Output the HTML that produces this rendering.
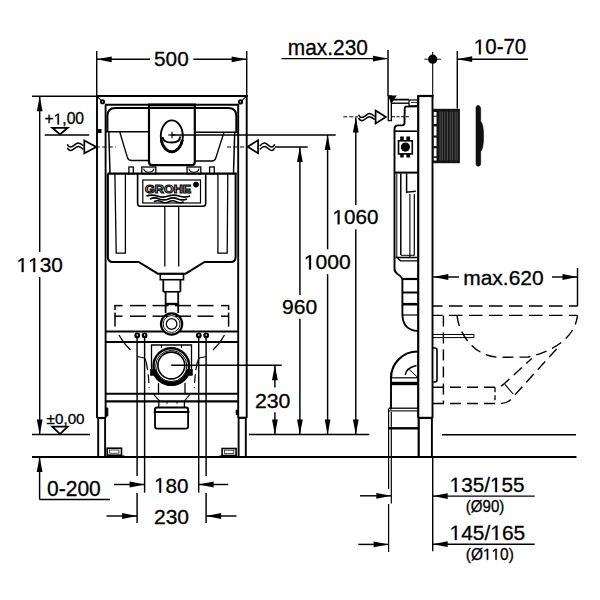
<!DOCTYPE html>
<html><head><meta charset="utf-8"><style>
html,body{margin:0;padding:0;background:#fff;}
svg{display:block;}
text{font-family:"Liberation Sans",sans-serif;fill:#000;stroke:none;}
</style></head><body>
<svg width="600" height="600" viewBox="0 0 600 600" stroke="#000" fill="none">
<rect x="0" y="0" width="600" height="600" fill="#fff" stroke="none"/>
<line x1="96.7" y1="51" x2="96.7" y2="96" stroke-width="1.45" stroke-linecap="butt"/>
<line x1="246.7" y1="51" x2="246.7" y2="96" stroke-width="1.45" stroke-linecap="butt"/>
<line x1="96.7" y1="59.3" x2="150" y2="59.3" stroke-width="1.45" stroke-linecap="butt"/>
<line x1="193.3" y1="59.3" x2="246.7" y2="59.3" stroke-width="1.45" stroke-linecap="butt"/>
<path d="M96.7,59.3 L111.7,56.4 L111.7,62.199999999999996 Z" fill="#000" stroke="none"/>
<path d="M246.7,59.3 L231.7,56.4 L231.7,62.199999999999996 Z" fill="#000" stroke="none"/>
<text x="0" y="0" transform="matrix(1.031611 0 0 1 154.069 65.803)" style="font-family:'Liberation Sans',sans-serif;font-size:20.127px;font-weight:normal;fill:#000;stroke:#000;stroke-width:0.3px;" >500</text>
<line x1="32" y1="96.2" x2="96.7" y2="96.2" stroke-width="1.45" stroke-linecap="butt"/>
<line x1="39.7" y1="96.2" x2="39.7" y2="252" stroke-width="1.45" stroke-linecap="butt"/>
<line x1="39.7" y1="277" x2="39.7" y2="434.5" stroke-width="1.45" stroke-linecap="butt"/>
<path d="M39.7,96.2 L36.800000000000004,111.2 L42.6,111.2 Z" fill="#000" stroke="none"/>
<path d="M39.7,434.5 L36.800000000000004,419.5 L42.6,419.5 Z" fill="#000" stroke="none"/>
<text x="0" y="0" transform="matrix(1.038070 0 0 1 16.497 272.004)" style="font-family:'Liberation Sans',sans-serif;font-size:20.056px;font-weight:normal;fill:#000;stroke:#000;stroke-width:0.3px;" ><tspan style="fill:none;stroke:none">1</tspan><tspan style="fill:none;stroke:none">1</tspan>30</text><path transform="matrix(0.010166 0 0 -0.009793 16.497 272.004)" d="M515 0V1237L197 1010V1180L530 1409H696V0Z M1654 0V1237L1336 1010V1180L1669 1409H1835V0Z" fill="#000" stroke="#000" stroke-width="0.3" vector-effect="non-scaling-stroke"/>
<text x="0" y="0" transform="matrix(1.000231 0 0 1 44.434 124.447)" style="font-family:'Liberation Sans',sans-serif;font-size:15.678px;font-weight:normal;fill:#000;stroke:#000;stroke-width:0.3px;" >+<tspan style="fill:none;stroke:none">1</tspan>,00</text><path transform="matrix(0.007657 0 0 -0.007655 44.434 124.447)" d="M1711 0V1237L1393 1010V1180L1726 1409H1892V0Z" fill="#000" stroke="#000" stroke-width="0.3" vector-effect="non-scaling-stroke"/>
<path d="M52.3,127.8 L67.7,127.8 L60,134.4 Z" stroke-width="1.8" fill="none" />
<line x1="44.7" y1="135" x2="89.2" y2="135" stroke-width="1.45" stroke-linecap="butt"/>
<text x="0" y="0" transform="matrix(1.016645 0 0 1 46.617 423.654)" style="font-family:'Liberation Sans',sans-serif;font-size:14.972px;font-weight:normal;fill:#000;stroke:#000;stroke-width:0.3px;" >±0,00</text>
<path d="M52.3,426.6 L67.7,426.6 L60,434.1 Z" stroke-width="1.8" fill="none" />
<line x1="32" y1="434.5" x2="90" y2="434.5" stroke-width="1.45" stroke-linecap="butt"/>
<path d="M67.3,144.3 C68.3125,146.5 69.325,147.10000000000002 70.74249999999999,147.10000000000002 C73.375,147.10000000000002 75.39999999999999,143.10000000000002 78.235,143.10000000000002 C80.46249999999999,143.10000000000002 81.98124999999999,144.60000000000002 83.5,146.0" stroke-width="1.5" fill="none" />
<path d="M67.3,147.70000000000002 C68.3125,149.9 69.325,150.50000000000003 70.74249999999999,150.50000000000003 C73.375,150.50000000000003 75.39999999999999,146.50000000000003 78.235,146.50000000000003 C80.46249999999999,146.50000000000003 81.98124999999999,148.00000000000003 83.5,149.4" stroke-width="1.5" fill="none" />
<path d="M84.3,140.5 L84.3,153.3 L96.3,147 Z" stroke-width="1.7" fill="#fff" />
<line x1="95.8" y1="147" x2="116" y2="147" stroke-width="1.0" stroke-dasharray="4,2.5" stroke-linecap="butt"/>
<path d="M247.7,146.8 L258.1,140.3 L258.1,153.3 Z" stroke-width="1.7" fill="#fff" />
<g transform="translate(534.4,0) scale(-1,1)">
<path d="M259.7,144.3 C260.6375,146.5 261.575,147.10000000000002 262.8875,147.10000000000002 C265.325,147.10000000000002 267.2,143.10000000000002 269.825,143.10000000000002 C271.8875,143.10000000000002 273.29375,144.60000000000002 274.7,146.0" stroke-width="1.5" fill="none" />
<path d="M259.7,147.70000000000002 C260.6375,149.9 261.575,150.50000000000003 262.8875,150.50000000000003 C265.325,150.50000000000003 267.2,146.50000000000003 269.825,146.50000000000003 C271.8875,146.50000000000003 273.29375,148.00000000000003 274.7,149.4" stroke-width="1.5" fill="none" />
</g>
<line x1="275" y1="147" x2="307.7" y2="147" stroke-width="1.45" stroke-linecap="butt"/>
<line x1="227" y1="147" x2="246.7" y2="147" stroke-width="1.0" stroke-dasharray="4,2.5" stroke-linecap="butt"/>
<line x1="97" y1="95" x2="97" y2="418" stroke-width="1.9" stroke-linecap="butt"/>
<line x1="105.6" y1="104.7" x2="105.6" y2="418" stroke-width="1.9" stroke-linecap="butt"/>
<line x1="98.2" y1="418" x2="98.2" y2="456" stroke-width="1.9" stroke-linecap="butt"/>
<line x1="105.1" y1="418" x2="105.1" y2="456" stroke-width="1.9" stroke-linecap="butt"/>
<line x1="246.7" y1="95.2" x2="246.7" y2="418" stroke-width="1.9" stroke-linecap="butt"/>
<line x1="238.2" y1="104.7" x2="238.2" y2="418" stroke-width="1.9" stroke-linecap="butt"/>
<line x1="245.8" y1="418" x2="245.8" y2="456" stroke-width="1.9" stroke-linecap="butt"/>
<line x1="238.6" y1="418" x2="238.6" y2="456" stroke-width="1.9" stroke-linecap="butt"/>
<line x1="96" y1="96" x2="247.7" y2="96" stroke-width="2.0" stroke-linecap="butt"/>
<line x1="105" y1="104.8" x2="239" y2="104.8" stroke-width="1.9" stroke-linecap="butt"/>
<circle cx="102.6" cy="101.8" r="1.6" stroke-width="1.9" fill="#fff"/>
<circle cx="240.5" cy="101.9" r="1.6" stroke-width="1.9" fill="#fff"/>
<line x1="97.4" y1="96.6" x2="101.4" y2="100.6" stroke-width="1.1" stroke-linecap="butt"/>
<line x1="246.2" y1="96.6" x2="241.8" y2="100.7" stroke-width="1.1" stroke-linecap="butt"/>
<line x1="105.6" y1="331.5" x2="238.4" y2="331.5" stroke-width="1.9" stroke-linecap="butt"/>
<line x1="105.6" y1="342" x2="238.4" y2="342" stroke-width="2.2" stroke-linecap="butt"/>
<line x1="105.6" y1="393.7" x2="238.4" y2="393.7" stroke-width="1.9" stroke-linecap="butt"/>
<line x1="105.6" y1="401.3" x2="238.4" y2="401.3" stroke-width="2.2" stroke-linecap="butt"/>
<line x1="96.9" y1="418" x2="105.6" y2="418" stroke-width="2.2" stroke-linecap="butt"/>
<line x1="238.2" y1="417.8" x2="246.7" y2="417.8" stroke-width="2.2" stroke-linecap="butt"/>
<rect x="107.2" y="448.2" width="14.3" height="7" stroke-width="1.6" fill="none" rx="0"/>
<rect x="109.5" y="450" width="9.5" height="3.2" stroke-width="0.7" fill="none" rx="0"/>
<rect x="222.1" y="448.5" width="14" height="7" stroke-width="1.6" fill="none" rx="0"/>
<rect x="224.3" y="450.2" width="9.5" height="3.2" stroke-width="0.7" fill="none" rx="0"/>
<line x1="107" y1="456.5" x2="124.5" y2="456.5" stroke-width="2.2" stroke-linecap="butt"/>
<line x1="219.5" y1="456.5" x2="236.6" y2="456.5" stroke-width="2.2" stroke-linecap="butt"/>
<path d="M105.8,408 L107.8,408 L107.8,416 L105.8,416 Z" stroke-width="1.0" fill="#000" />
<path d="M238.2,410 L236.2,410 L236.2,414.5 L238.2,414.5 Z" stroke-width="1.0" fill="#000" />
<rect x="97.5" y="129.5" width="3.5" height="3" stroke-width="1.0" fill="#000" rx="0"/>
<path d="M107.4,132 L107.4,116 Q107.4,108 115.4,108 L228.3,108 Q236.3,108 236.3,116 L236.3,132" stroke-width="2.0" fill="none" />
<line x1="108.8" y1="131.7" x2="110" y2="173.5" stroke-width="1.5" stroke-linecap="butt"/>
<line x1="234.7" y1="131.7" x2="233.5" y2="173.5" stroke-width="1.5" stroke-linecap="butt"/>
<line x1="105.6" y1="131.7" x2="149" y2="131.7" stroke-width="1.4" stroke-linecap="butt"/>
<line x1="194.8" y1="132.2" x2="238.2" y2="132.2" stroke-width="1.4" stroke-linecap="butt"/>
<path d="M119.7,131.8 L127.4,157.5 Q128.3,160.5 131.5,160.5 L148.5,160.5" stroke-width="1.3" fill="none" />
<path d="M224,132.3 L215.8,158 Q215,161 211.8,161 L195.3,161" stroke-width="1.3" fill="none" />
<path d="M149,105 L149,162 Q149,165.1 152,165.1 L191.8,165.1 Q194.8,165.1 194.8,162 L194.8,105" stroke-width="2.2" fill="none" />
<line x1="148" y1="104.9" x2="196" y2="104.9" stroke-width="2.8" stroke-linecap="butt"/>
<ellipse cx="171.8" cy="136.3" rx="11" ry="15.9" stroke-width="1.9" fill="none"/>
<path d="M161.2,140 A11,15.9 0 0 0 182.4,140" stroke-width="2.8" fill="none" />
<path d="M162.5,137 Q163,142.6 171.8,142.6 Q180,142.6 180.2,136.5" stroke-width="2.0" fill="none" />
<line x1="168.3" y1="135" x2="175" y2="135" stroke-width="1.2" stroke-linecap="butt"/>
<line x1="172" y1="131.8" x2="172" y2="138.3" stroke-width="1.2" stroke-linecap="butt"/>
<line x1="171.8" y1="134.9" x2="335.7" y2="134.9" stroke-width="1.45" stroke-linecap="butt"/>
<line x1="107.5" y1="173.7" x2="236.8" y2="173.7" stroke-width="2.2" stroke-linecap="butt"/>
<rect x="128.9" y="167" width="4.400000000000006" height="6.7" stroke-width="1.3" fill="none" rx="0"/>
<rect x="141.8" y="167" width="14.0" height="6.7" stroke-width="1.3" fill="none" rx="0"/>
<rect x="187" y="167" width="13.800000000000011" height="6.7" stroke-width="1.3" fill="none" rx="0"/>
<rect x="209.6" y="167" width="4.700000000000017" height="6.7" stroke-width="1.3" fill="none" rx="0"/>
<path d="M143.6,168.6 Q144.5,172.2 148.8,172.2 Q153,172.2 154,168.6" stroke-width="1.1" fill="none" />
<path d="M188.8,168.6 Q189.7,172.2 194,172.2 Q198.2,172.2 199.1,168.6" stroke-width="1.1" fill="none" />
<path d="M107.9,173.7 L107.9,257 Q107.9,262 112.9,262 L138.7,262 L157.8,273.7 L185.6,273.7 L204.6,262 L230.6,262 Q235.6,262 235.6,257 L235.6,173.7" stroke-width="2.0" fill="none" />
<path d="M114.9,174 L116.2,253.2 L125.4,253.2 L125.4,174" stroke-width="1.3" fill="none" />
<path d="M227.8,174 L227.2,253.2 L217.9,253.2 L217.9,174" stroke-width="1.3" fill="none" />
<path d="M137.6,173.7 L137.6,203.5 Q137.6,206.3 140.4,206.3 L202.9,206.3 Q205.7,206.3 205.7,203.5 L205.7,173.7" stroke-width="1.6" fill="none" />
<rect x="142.8" y="180" width="57.7" height="23" stroke-width="1.2" fill="none" rx="0"/>
<text x="0" y="0" transform="matrix(1.111486 0 0 1 145.083 192.600)" style="font-family:'Liberation Sans',sans-serif;font-size:11.337px;font-weight:bold;fill:#fff;stroke:#000;stroke-width:1.1px;" >GROHE</text>
<circle cx="196" cy="184.6" r="2.7" stroke-width="0.5" fill="#000"/>
<path d="M146.4,196.1 q5.45,-2.0 10.90,0 q5.45,2.0 10.90,0 q5.45,-2.0 10.90,0 q5.45,2.0 10.90,0" stroke-width="1.6" fill="none" />
<path d="M150,198.9 q4.62,-2.0 9.25,0 q4.62,2.0 9.25,0 q4.62,-2.0 9.25,0 q4.62,2.0 9.25,0" stroke-width="1.6" fill="none" />
<path d="M153.9,201.7 q3.72,-2.0 7.45,0 q3.72,2.0 7.45,0 q3.72,-2.0 7.45,0 q3.72,2.0 7.45,0" stroke-width="1.6" fill="none" />
<line x1="164.8" y1="206.3" x2="164.8" y2="266.5" stroke-width="1.3" stroke-linecap="butt"/>
<line x1="178.7" y1="206.3" x2="178.7" y2="266.5" stroke-width="1.3" stroke-linecap="butt"/>
<rect x="160.3" y="273.7" width="23.2" height="6" stroke-width="1.6" fill="none" rx="0"/>
<line x1="163.3" y1="279.7" x2="163.3" y2="291.8" stroke-width="1.8" stroke-linecap="butt"/>
<line x1="180.4" y1="279.7" x2="180.4" y2="291.8" stroke-width="1.8" stroke-linecap="butt"/>
<line x1="163.3" y1="291.8" x2="180.4" y2="291.8" stroke-width="1.6" stroke-linecap="butt"/>
<line x1="165.6" y1="291.8" x2="165.6" y2="313" stroke-width="1.8" stroke-linecap="butt"/>
<line x1="178.2" y1="291.8" x2="178.2" y2="313" stroke-width="1.8" stroke-linecap="butt"/>
<line x1="165.6" y1="304" x2="178.2" y2="304" stroke-width="2.4" stroke-linecap="butt"/>
<circle cx="171.6" cy="324" r="10.6" stroke-width="2.2" fill="#fff"/>
<circle cx="171.6" cy="324" r="8.4" stroke-width="0.9" fill="none"/>
<circle cx="171.6" cy="324" r="5.3" stroke-width="1.3" fill="none"/>
<line x1="114.5" y1="305.6" x2="122.5" y2="305.6" stroke-width="1.5" stroke-linecap="butt"/>
<line x1="130" y1="305.6" x2="146" y2="305.6" stroke-width="1.5" stroke-linecap="butt"/>
<line x1="152.5" y1="305.6" x2="168.5" y2="305.6" stroke-width="1.5" stroke-linecap="butt"/>
<line x1="175" y1="305.6" x2="191" y2="305.6" stroke-width="1.5" stroke-linecap="butt"/>
<line x1="197.5" y1="305.6" x2="213.5" y2="305.6" stroke-width="1.5" stroke-linecap="butt"/>
<line x1="221" y1="305.6" x2="229" y2="305.6" stroke-width="1.5" stroke-linecap="butt"/>
<line x1="114.5" y1="316.2" x2="122.5" y2="316.2" stroke-width="1.5" stroke-linecap="butt"/>
<line x1="130" y1="316.2" x2="146" y2="316.2" stroke-width="1.5" stroke-linecap="butt"/>
<line x1="152.5" y1="316.2" x2="168.5" y2="316.2" stroke-width="1.5" stroke-linecap="butt"/>
<line x1="175" y1="316.2" x2="191" y2="316.2" stroke-width="1.5" stroke-linecap="butt"/>
<line x1="197.5" y1="316.2" x2="213.5" y2="316.2" stroke-width="1.5" stroke-linecap="butt"/>
<line x1="221" y1="316.2" x2="229" y2="316.2" stroke-width="1.5" stroke-linecap="butt"/>
<line x1="115" y1="305" x2="115" y2="310" stroke-width="1.5" stroke-linecap="butt"/>
<line x1="115" y1="312.6" x2="115" y2="326.6" stroke-width="1.5" stroke-linecap="butt"/>
<line x1="228.6" y1="305" x2="228.6" y2="310" stroke-width="1.5" stroke-linecap="butt"/>
<line x1="228.6" y1="312.6" x2="228.6" y2="326.6" stroke-width="1.5" stroke-linecap="butt"/>
<path d="M119,335 Q124,344 130.5,350" stroke-width="1.2" fill="none" />
<path d="M224.5,335 Q219.5,344 213,350" stroke-width="1.2" fill="none" />
<path d="M146,361.5 Q148.5,372 149.2,388" stroke-width="1.2" fill="none" stroke-dasharray="9,4" />
<path d="M197.5,361.5 Q195,372 194.3,388" stroke-width="1.2" fill="none" stroke-dasharray="9,4" />
<line x1="137" y1="356.5" x2="144.6" y2="358" stroke-width="1.1" stroke-linecap="butt"/>
<line x1="144.6" y1="358" x2="146" y2="361.5" stroke-width="1.1" stroke-linecap="butt"/>
<line x1="206.5" y1="356.5" x2="198.9" y2="358" stroke-width="1.1" stroke-linecap="butt"/>
<line x1="198.9" y1="358" x2="197.5" y2="361.5" stroke-width="1.1" stroke-linecap="butt"/>
<circle cx="137.25" cy="335.4" r="2.85" stroke-width="0" fill="#000"/>
<circle cx="137.25" cy="335.1" r="0.8" fill="#fff" stroke="none"/>
<circle cx="144.6" cy="335.4" r="2.85" stroke-width="0" fill="#000"/>
<circle cx="144.6" cy="335.1" r="0.8" fill="#fff" stroke="none"/>
<circle cx="198.8" cy="335.4" r="2.85" stroke-width="0" fill="#000"/>
<circle cx="198.8" cy="335.1" r="0.8" fill="#fff" stroke="none"/>
<circle cx="206.2" cy="335.4" r="2.85" stroke-width="0" fill="#000"/>
<circle cx="206.2" cy="335.1" r="0.8" fill="#fff" stroke="none"/>
<line x1="137.1" y1="338" x2="137.1" y2="476" stroke-width="1.45" stroke-linecap="butt"/>
<line x1="137.1" y1="493" x2="137.1" y2="523" stroke-width="1.45" stroke-linecap="butt"/>
<line x1="144.6" y1="338" x2="144.6" y2="492.7" stroke-width="1.45" stroke-linecap="butt"/>
<line x1="198.7" y1="338" x2="198.7" y2="492.7" stroke-width="1.45" stroke-linecap="butt"/>
<line x1="206.1" y1="338" x2="206.1" y2="476" stroke-width="1.45" stroke-linecap="butt"/>
<line x1="206.1" y1="493" x2="206.1" y2="523" stroke-width="1.45" stroke-linecap="butt"/>
<path d="M151.5,371 L151.5,345 L191.5,345 L191.5,371" stroke-width="1.3" fill="none" />
<line x1="161.5" y1="345" x2="161.5" y2="348" stroke-width="1.0" stroke-linecap="butt"/>
<line x1="181.5" y1="345" x2="181.5" y2="348" stroke-width="1.0" stroke-linecap="butt"/>
<circle cx="171.3" cy="366" r="17.8" stroke-width="2.4" fill="#fff"/>
<circle cx="171.3" cy="366" r="15.6" stroke-width="1.0" fill="none"/>
<path d="M154.1,370.6 A17.8,17.8 0 0 0 188.5,370.6" stroke-width="4.4" fill="none" />
<circle cx="171.3" cy="365.5" r="13.4" stroke-width="1.6" fill="#fff"/>
<rect x="150.3" y="369.5" width="5" height="6" stroke-width="0.5" fill="#000" rx="0"/>
<rect x="187.5" y="369.5" width="5" height="6" stroke-width="0.5" fill="#000" rx="0"/>
<line x1="171.2" y1="365.2" x2="281.7" y2="365.2" stroke-width="1.45" stroke-linecap="butt"/>
<line x1="158.5" y1="383" x2="158.5" y2="394" stroke-width="1.3" stroke-linecap="butt"/>
<line x1="185" y1="383" x2="185" y2="394" stroke-width="1.3" stroke-linecap="butt"/>
<path d="M153.4,394.2 L159.7,401.2 M190,394.4 L184.4,401" stroke-width="1.1" fill="none" />
<line x1="158.8" y1="401.6" x2="158.8" y2="407.5" stroke-width="1.3" stroke-linecap="butt"/>
<line x1="184.4" y1="401.6" x2="184.4" y2="407.5" stroke-width="1.3" stroke-linecap="butt"/>
<line x1="167" y1="401.6" x2="167" y2="403.8" stroke-width="1.0" stroke-linecap="butt"/>
<line x1="177" y1="401.6" x2="177" y2="403.8" stroke-width="1.0" stroke-linecap="butt"/>
<path d="M155,412 L155,409.5 Q155,407.5 157,407.5 L186.1,407.5 Q188.1,407.5 188.1,409.5 L188.1,412" stroke-width="2.0" fill="none" />
<line x1="153.7" y1="412" x2="189.5" y2="412" stroke-width="2.2" stroke-linecap="butt"/>
<path d="M155,412 L155,426.6 Q155,428.6 157,428.6 L186.1,428.6 Q188.1,428.6 188.1,426.6 L188.1,412" stroke-width="1.8" fill="none" />
<line x1="32" y1="457" x2="576.5" y2="457" stroke-width="2.0" stroke-linecap="butt"/>
<path d="M39.6,457 L36.7,472.0 L42.5,472.0 Z" fill="#000" stroke="none"/>
<line x1="39.6" y1="457" x2="39.6" y2="499.4" stroke-width="1.45" stroke-linecap="butt"/>
<line x1="39.6" y1="499.4" x2="110" y2="499.4" stroke-width="1.45" stroke-linecap="butt"/>
<text x="0" y="0" transform="matrix(0.993698 0 0 1 46.978 495.793)" style="font-family:'Liberation Sans',sans-serif;font-size:21.186px;font-weight:normal;fill:#000;stroke:#000;stroke-width:0.3px;" >0-200</text>
<line x1="114" y1="484.5" x2="144.6" y2="484.5" stroke-width="1.45" stroke-linecap="butt"/>
<path d="M144.6,484.5 L129.6,481.6 L129.6,487.4 Z" fill="#000" stroke="none"/>
<line x1="228.3" y1="484.5" x2="198.7" y2="484.5" stroke-width="1.45" stroke-linecap="butt"/>
<path d="M198.7,484.5 L213.7,481.6 L213.7,487.4 Z" fill="#000" stroke="none"/>
<text x="0" y="0" transform="matrix(0.985760 0 0 1 154.111 492.695)" style="font-family:'Liberation Sans',sans-serif;font-size:20.974px;font-weight:normal;fill:#000;stroke:#000;stroke-width:0.3px;" ><tspan style="fill:none;stroke:none">1</tspan>80</text><path transform="matrix(0.010096 0 0 -0.010241 154.111 492.695)" d="M515 0V1237L197 1010V1180L530 1409H696V0Z" fill="#000" stroke="#000" stroke-width="0.3" vector-effect="non-scaling-stroke"/>
<line x1="106.5" y1="516" x2="137.1" y2="516" stroke-width="1.45" stroke-linecap="butt"/>
<path d="M137.1,516 L122.1,513.1 L122.1,518.9 Z" fill="#000" stroke="none"/>
<line x1="236.5" y1="516" x2="206.1" y2="516" stroke-width="1.45" stroke-linecap="butt"/>
<path d="M206.1,516 L221.1,513.1 L221.1,518.9 Z" fill="#000" stroke="none"/>
<text x="0" y="0" transform="matrix(1.000537 0 0 1 153.941 523.794)" style="font-family:'Liberation Sans',sans-serif;font-size:21.045px;font-weight:normal;fill:#000;stroke:#000;stroke-width:0.3px;" >230</text>
<line x1="249" y1="434.5" x2="369.3" y2="434.5" stroke-width="1.45" stroke-linecap="butt"/>
<line x1="274.9" y1="365.2" x2="274.9" y2="387.6" stroke-width="1.45" stroke-linecap="butt"/>
<line x1="274.9" y1="412.2" x2="274.9" y2="434.5" stroke-width="1.45" stroke-linecap="butt"/>
<path d="M274.9,365.2 L272.0,380.2 L277.79999999999995,380.2 Z" fill="#000" stroke="none"/>
<path d="M274.9,434.5 L272.0,419.5 L277.79999999999995,419.5 Z" fill="#000" stroke="none"/>
<text x="0" y="0" transform="matrix(1.031845 0 0 1 254.930 407.599)" style="font-family:'Liberation Sans',sans-serif;font-size:20.621px;font-weight:normal;fill:#000;stroke:#000;stroke-width:0.3px;" >230</text>
<line x1="299.9" y1="147" x2="299.9" y2="294.9" stroke-width="1.45" stroke-linecap="butt"/>
<line x1="299.9" y1="318.8" x2="299.9" y2="434.5" stroke-width="1.45" stroke-linecap="butt"/>
<path d="M299.9,147 L297.0,162.0 L302.79999999999995,162.0 Z" fill="#000" stroke="none"/>
<path d="M299.9,434.5 L297.0,419.5 L302.79999999999995,419.5 Z" fill="#000" stroke="none"/>
<text x="0" y="0" transform="matrix(1.016525 0 0 1 282.111 314.197)" style="font-family:'Liberation Sans',sans-serif;font-size:20.762px;font-weight:normal;fill:#000;stroke:#000;stroke-width:0.3px;" >960</text>
<line x1="327.6" y1="134.9" x2="327.6" y2="249.4" stroke-width="1.45" stroke-linecap="butt"/>
<line x1="327.6" y1="274.1" x2="327.6" y2="434.5" stroke-width="1.45" stroke-linecap="butt"/>
<path d="M327.6,134.9 L324.70000000000005,149.9 L330.5,149.9 Z" fill="#000" stroke="none"/>
<path d="M327.6,434.5 L324.70000000000005,419.5 L330.5,419.5 Z" fill="#000" stroke="none"/>
<text x="0" y="0" transform="matrix(1.023556 0 0 1 303.820 269.399)" style="font-family:'Liberation Sans',sans-serif;font-size:20.621px;font-weight:normal;fill:#000;stroke:#000;stroke-width:0.3px;" ><tspan style="fill:none;stroke:none">1</tspan>000</text><path transform="matrix(0.010306 0 0 -0.010069 303.820 269.399)" d="M515 0V1237L197 1010V1180L530 1409H696V0Z" fill="#000" stroke="#000" stroke-width="0.3" vector-effect="non-scaling-stroke"/>
<line x1="355.8" y1="117.5" x2="355.8" y2="205" stroke-width="1.45" stroke-linecap="butt"/>
<line x1="355.8" y1="229.2" x2="355.8" y2="434.5" stroke-width="1.45" stroke-linecap="butt"/>
<path d="M355.8,117.5 L352.90000000000003,132.5 L358.7,132.5 Z" fill="#000" stroke="none"/>
<path d="M355.8,434.5 L352.90000000000003,419.5 L358.7,419.5 Z" fill="#000" stroke="none"/>
<text x="0" y="0" transform="matrix(1.016593 0 0 1 332.511 224.301)" style="font-family:'Liberation Sans',sans-serif;font-size:20.339px;font-weight:normal;fill:#000;stroke:#000;stroke-width:0.3px;" ><tspan style="fill:none;stroke:none">1</tspan>060</text><path transform="matrix(0.010096 0 0 -0.009931 332.511 224.301)" d="M515 0V1237L197 1010V1180L530 1409H696V0Z" fill="#000" stroke="#000" stroke-width="0.3" vector-effect="non-scaling-stroke"/>
<text x="0" y="0" transform="matrix(0.985775 0 0 1 287.813 54.993)" style="font-family:'Liberation Sans',sans-serif;font-size:21.186px;font-weight:normal;fill:#000;stroke:#000;stroke-width:0.3px;" >max.230</text>
<line x1="281.6" y1="58.6" x2="387.4" y2="58.6" stroke-width="1.45" stroke-linecap="butt"/>
<path d="M388,58.6 L373.0,55.7 L373.0,61.5 Z" fill="#000" stroke="none"/>
<line x1="388" y1="50" x2="388" y2="96" stroke-width="1.45" stroke-linecap="butt"/>
<text x="0" y="0" transform="matrix(0.968420 0 0 1 473.826 54.293)" style="font-family:'Liberation Sans',sans-serif;font-size:21.186px;font-weight:normal;fill:#000;stroke:#000;stroke-width:0.3px;" ><tspan style="fill:none;stroke:none">1</tspan>0-70</text><path transform="matrix(0.010018 0 0 -0.010345 473.826 54.293)" d="M515 0V1237L197 1010V1180L530 1409H696V0Z" fill="#000" stroke="#000" stroke-width="0.3" vector-effect="non-scaling-stroke"/>
<line x1="528" y1="59.2" x2="457.2" y2="59.2" stroke-width="1.45" stroke-linecap="butt"/>
<path d="M457.2,59.2 L472.2,56.300000000000004 L472.2,62.1 Z" fill="#000" stroke="none"/>
<line x1="457.3" y1="51" x2="457.3" y2="108.5" stroke-width="1.45" stroke-linecap="butt"/>
<circle cx="432.7" cy="59.2" r="4.6" stroke-width="0" fill="#000"/>
<line x1="424.3" y1="59.2" x2="441" y2="59.2" stroke-width="0.9" stroke-linecap="butt"/>
<line x1="432.7" y1="52" x2="432.7" y2="96" stroke-width="1.1" stroke-linecap="butt"/>
<line x1="418.2" y1="95.2" x2="418.2" y2="418" stroke-width="2.2" stroke-linecap="butt"/>
<line x1="418.7" y1="418" x2="418.7" y2="457" stroke-width="2.2" stroke-linecap="butt"/>
<line x1="432.5" y1="95.2" x2="432.5" y2="418" stroke-width="1.9" stroke-linecap="butt"/>
<line x1="431.9" y1="418" x2="431.9" y2="457" stroke-width="1.9" stroke-linecap="butt"/>
<line x1="417.5" y1="96" x2="433.4" y2="96" stroke-width="2.2" stroke-linecap="butt"/>
<line x1="418.2" y1="417.9" x2="432.5" y2="417.9" stroke-width="2.2" stroke-linecap="butt"/>
<rect x="432.7" y="108.8" width="27.2" height="54.4" stroke-width="0" fill="#151515" rx="0"/>
<rect x="433.8" y="112" width="2.7" height="3.700000000000003" fill="#fff" stroke="none"/>
<rect x="433.8" y="116.8" width="2.7" height="7.1000000000000085" fill="#fff" stroke="none"/>
<rect x="433.8" y="126.4" width="2.7" height="9.099999999999994" fill="#fff" stroke="none"/>
<rect x="433.8" y="137.6" width="2.7" height="8.5" fill="#fff" stroke="none"/>
<rect x="433.8" y="148.3" width="2.7" height="8.0" fill="#fff" stroke="none"/>
<rect x="433.8" y="157.9" width="2.7" height="2.5999999999999943" fill="#fff" stroke="none"/>
<g stroke="#707070">
<line x1="440.1" y1="111.5" x2="440.1" y2="160.5" stroke-width="0.7" stroke-linecap="butt"/>
<line x1="442.3" y1="111.5" x2="442.3" y2="160.5" stroke-width="0.7" stroke-linecap="butt"/>
<line x1="444.9" y1="111.5" x2="444.9" y2="160.5" stroke-width="0.7" stroke-linecap="butt"/>
<line x1="447.6" y1="111.5" x2="447.6" y2="160.5" stroke-width="0.7" stroke-linecap="butt"/>
<line x1="450.3" y1="111.5" x2="450.3" y2="160.5" stroke-width="0.7" stroke-linecap="butt"/>
<line x1="452.4" y1="111.5" x2="452.4" y2="160.5" stroke-width="0.7" stroke-linecap="butt"/>
<line x1="455.1" y1="111.5" x2="455.1" y2="160.5" stroke-width="0.7" stroke-linecap="butt"/>
<line x1="457.2" y1="111.5" x2="457.2" y2="160.5" stroke-width="0.7" stroke-linecap="butt"/>
</g>
<path d="M476,107.5 Q476,105.4 478,105.4 Q480.7,105.4 480.7,109 L480.7,121.5 Q483.6,124 483.6,136 Q483.6,149 480.7,151.5 L480.7,163.5 Q480.7,166.3 478.3,166.3 Q476,166.3 476,164 Z" stroke-width="0.5" fill="#111" />
<rect x="388.3" y="96" width="3" height="24.6" stroke-width="1.3" fill="#fff" rx="0"/>
<path d="M388.1,96 L395.8,96 L391,103" stroke-width="1.2" fill="#000" />
<line x1="392" y1="99.6" x2="409" y2="99.6" stroke-width="1.8" stroke-linecap="butt"/>
<line x1="392" y1="103.2" x2="409" y2="103.2" stroke-width="1.4" stroke-linecap="butt"/>
<rect x="409" y="100" width="8.5" height="6" stroke-width="1.2" fill="none" rx="0"/>
<line x1="411" y1="102.5" x2="417" y2="102.5" stroke-width="0.8" stroke-linecap="butt"/>
<path d="M417.5,106.3 L405.7,106.6 Q404.7,107 404.7,109 L404.5,123 Q404.3,125.4 402,125.4 L397.5,125.4 Q394.5,125.6 394.5,129 L394.5,268.5 Q394.5,272 397.5,274 Q401,276 401.8,278 Q402.4,279 402.4,281 L402.4,315 Q402.6,326 411,329.6 Q414,331 418.3,331" stroke-width="1.9" fill="none" />
<line x1="392" y1="116.8" x2="409.5" y2="116.8" stroke-width="1.1" stroke-dasharray="3,1.6" stroke-linecap="butt"/>
<line x1="394.5" y1="131.2" x2="418" y2="131.2" stroke-width="1.6" stroke-linecap="butt"/>
<rect x="398.5" y="140.8" width="13.8" height="13.1" stroke-width="1.6" fill="#fff" rx="0"/>
<circle cx="405.4" cy="147.1" r="4.6" stroke-width="0" fill="#000"/>
<rect x="400.2" y="136.5" width="3.5" height="4.3" stroke-width="0" fill="#000" rx="0"/>
<rect x="406.4" y="136.5" width="3.7" height="4.3" stroke-width="0" fill="#000" rx="0"/>
<rect x="400.2" y="153.9" width="3.5" height="3.6" stroke-width="0" fill="#000" rx="0"/>
<rect x="406.4" y="153.9" width="3.7" height="3.6" stroke-width="0" fill="#000" rx="0"/>
<line x1="394.5" y1="172.6" x2="418.3" y2="172.6" stroke-width="2.0" stroke-linecap="butt"/>
<line x1="396.8" y1="173.5" x2="396.8" y2="257.5" stroke-width="1.0" stroke-linecap="butt"/>
<line x1="400.8" y1="173.5" x2="400.8" y2="255" stroke-width="1.5" stroke-linecap="butt"/>
<path d="M406.6,173.5 L406.6,192.2 L415.8,191.2" stroke-width="1.5" fill="none" />
<line x1="409.9" y1="194" x2="409.9" y2="257.5" stroke-width="1.1" stroke-linecap="butt"/>
<line x1="414.3" y1="194" x2="414.3" y2="255.5" stroke-width="1.2" stroke-linecap="butt"/>
<line x1="400.8" y1="255.3" x2="414.3" y2="255.3" stroke-width="1.0" stroke-linecap="butt"/>
<path d="M395.6,257.5 L417.5,257.5" stroke-width="1.6" fill="none" />
<path d="M397.5,258 L400.5,260.8 L417.5,260.8" stroke-width="1.2" fill="none" />
<line x1="402.4" y1="279" x2="418.3" y2="279" stroke-width="2.2" stroke-linecap="butt"/>
<line x1="402.4" y1="292.5" x2="418.3" y2="292.5" stroke-width="2.0" stroke-linecap="butt"/>
<line x1="402.4" y1="304.2" x2="418.3" y2="304.2" stroke-width="2.6" stroke-linecap="butt"/>
<line x1="402.4" y1="315" x2="418.3" y2="315" stroke-width="1.2" stroke-linecap="butt"/>
<line x1="343.3" y1="116.8" x2="358" y2="116.8" stroke-width="1.0" stroke-dasharray="4,2" stroke-linecap="butt"/>
<path d="M358.6,114.8 C359.60625000000005,117.0 360.6125,117.6 362.02125,117.6 C364.63750000000005,117.6 366.65000000000003,113.6 369.46750000000003,113.6 C371.68125000000003,113.6 373.190625,115.1 374.70000000000005,116.5" stroke-width="1.5" fill="none" />
<path d="M358.6,117.89999999999999 C359.60625000000005,120.1 360.6125,120.69999999999999 362.02125,120.69999999999999 C364.63750000000005,120.69999999999999 366.65000000000003,116.69999999999999 369.46750000000003,116.69999999999999 C371.68125000000003,116.69999999999999 373.190625,118.19999999999999 374.70000000000005,119.6" stroke-width="1.5" fill="none" />
<path d="M375.6,110.5 L375.6,123.5 L385.9,117 Z" stroke-width="1.7" fill="#fff" />
<line x1="433" y1="334.5" x2="474" y2="334.5" stroke-width="1.0" stroke-linecap="butt"/>
<line x1="433" y1="337.6" x2="474" y2="337.6" stroke-width="1.0" stroke-linecap="butt"/>
<line x1="474" y1="334.5" x2="474" y2="337.6" stroke-width="1.0" stroke-linecap="butt"/>
<path d="M433,348 L435,348 Q437,348 437,350 L437,380 Q437,382 435,382 L433,382" stroke-width="1.6" fill="none" />
<path d="M391,378 A26.5,26.5 0 0 1 417.5,351.5" stroke-width="2.2" fill="none" />
<path d="M405.2,375 Q406,368 416.5,365.5" stroke-width="1.4" fill="none" />
<line x1="408.3" y1="368.6" x2="417.5" y2="377.3" stroke-width="1.0" stroke-linecap="butt"/>
<line x1="391" y1="377.8" x2="418" y2="377.8" stroke-width="1.2" stroke-linecap="butt"/>
<line x1="391" y1="383.5" x2="418" y2="383.5" stroke-width="3.4" stroke-linecap="butt"/>
<line x1="391" y1="378" x2="391" y2="409.5" stroke-width="1.9" stroke-linecap="butt"/>
<line x1="388.6" y1="410" x2="388.6" y2="489" stroke-width="1.2" stroke-linecap="butt"/>
<line x1="388.6" y1="504" x2="388.6" y2="552" stroke-width="1.2" stroke-linecap="butt"/>
<line x1="391.3" y1="412" x2="391.3" y2="503.5" stroke-width="1.2" stroke-linecap="butt"/>
<path d="M391,408 Q388,408 388.5,411" stroke-width="1.2" fill="none" />
<line x1="389" y1="408.2" x2="418" y2="408.2" stroke-width="1.3" stroke-linecap="butt"/>
<line x1="389" y1="410.9" x2="418" y2="410.9" stroke-width="1.1" stroke-linecap="butt"/>
<line x1="389" y1="428.3" x2="418" y2="428.3" stroke-width="2.4" stroke-linecap="butt"/>
<line x1="433" y1="306" x2="577.5" y2="306" stroke-width="1.4" stroke-dasharray="9.5,6.5,13.5,6.5,13.5,6.5,13.5,6.5,13.5,6.5,13.5,6.5,13.5,6.5,9.5" stroke-linecap="butt"/>
<line x1="433" y1="315.4" x2="577.5" y2="315.4" stroke-width="1.4" stroke-dasharray="9.5,6.5,13.5,6.5,13.5,6.5,13.5,6.5,13.5,6.5,13.5,6.5,13.5,6.5,9.5" stroke-linecap="butt"/>
<line x1="577.5" y1="268" x2="577.5" y2="306" stroke-width="1.45" stroke-linecap="butt"/>
<path d="M457,315.4 C459,335 475,357 500,357.3 L528,357 C548,353 575,340 577.5,315.4" stroke-width="1.4" fill="none" stroke-dasharray="11,6" />
<line x1="443.4" y1="315.4" x2="443.4" y2="403.5" stroke-width="1.4" stroke-dasharray="11,6" stroke-linecap="butt"/>
<path d="M433,387.2 L495,387.2 Q501,387.2 504.5,383.5 L531.8,358.4" stroke-width="1.4" fill="none" stroke-dasharray="11,6" />
<path d="M433,403.5 L501,403.5 Q508,403.5 512.5,397.5 L557.8,347.6" stroke-width="1.4" fill="none" stroke-dasharray="11,6" />
<line x1="495" y1="387.2" x2="495" y2="403.5" stroke-width="1.3" stroke-dasharray="5,3" stroke-linecap="butt"/>
<line x1="504.8" y1="384.4" x2="513.2" y2="394" stroke-width="1.1" stroke-linecap="butt"/>
<line x1="433.3" y1="277" x2="459" y2="277" stroke-width="1.45" stroke-linecap="butt"/>
<path d="M433.3,277 L448.3,274.1 L448.3,279.9 Z" fill="#000" stroke="none"/>
<line x1="552" y1="277" x2="577.5" y2="277" stroke-width="1.45" stroke-linecap="butt"/>
<path d="M577.5,277 L562.5,274.1 L562.5,279.9 Z" fill="#000" stroke="none"/>
<text x="0" y="0" transform="matrix(1.004226 0 0 1 463.206 284.596)" style="font-family:'Liberation Sans',sans-serif;font-size:20.904px;font-weight:normal;fill:#000;stroke:#000;stroke-width:0.3px;" >max.620</text>
<line x1="442" y1="434.7" x2="576" y2="434.7" stroke-width="1.45" stroke-linecap="butt"/>
<line x1="432.7" y1="457" x2="432.7" y2="551.2" stroke-width="1.45" stroke-linecap="butt"/>
<line x1="360" y1="495.8" x2="391.3" y2="495.8" stroke-width="1.45" stroke-linecap="butt"/>
<path d="M391.3,495.8 L376.3,492.90000000000003 L376.3,498.7 Z" fill="#000" stroke="none"/>
<line x1="534.7" y1="496.1" x2="432.7" y2="496.1" stroke-width="1.45" stroke-linecap="butt"/>
<path d="M432.7,496.1 L447.7,493.20000000000005 L447.7,499.0 Z" fill="#000" stroke="none"/>
<text x="0" y="0" transform="matrix(0.998863 0 0 1 449.605 492.097)" style="font-family:'Liberation Sans',sans-serif;font-size:20.762px;font-weight:normal;fill:#000;stroke:#000;stroke-width:0.3px;" ><tspan style="fill:none;stroke:none">1</tspan>35/<tspan style="fill:none;stroke:none">1</tspan>55</text><path transform="matrix(0.010126 0 0 -0.010138 449.605 492.097)" d="M515 0V1237L197 1010V1180L530 1409H696V0Z M4501 0V1237L4183 1010V1180L4516 1409H4682V0Z" fill="#000" stroke="#000" stroke-width="0.3" vector-effect="non-scaling-stroke"/>
<text x="0" y="0" transform="matrix(0.953893 0 0 1 465.764 512.446)" style="font-family:'Liberation Sans',sans-serif;font-size:15.819px;font-weight:normal;fill:#000;stroke:#000;stroke-width:0.3px;" >(Ø90)</text>
<line x1="358.3" y1="544.4" x2="388.8" y2="544.4" stroke-width="1.45" stroke-linecap="butt"/>
<path d="M388.6,544.4 L373.6,541.5 L373.6,547.3 Z" fill="#000" stroke="none"/>
<line x1="534.7" y1="544.2" x2="432.7" y2="544.2" stroke-width="1.45" stroke-linecap="butt"/>
<path d="M432.7,544.2 L447.7,541.3000000000001 L447.7,547.1 Z" fill="#000" stroke="none"/>
<text x="0" y="0" transform="matrix(1.008561 0 0 1 449.586 540.097)" style="font-family:'Liberation Sans',sans-serif;font-size:20.762px;font-weight:normal;fill:#000;stroke:#000;stroke-width:0.3px;" ><tspan style="fill:none;stroke:none">1</tspan>45/<tspan style="fill:none;stroke:none">1</tspan>65</text><path transform="matrix(0.010225 0 0 -0.010138 449.586 540.097)" d="M515 0V1237L197 1010V1180L530 1409H696V0Z M4501 0V1237L4183 1010V1180L4516 1409H4682V0Z" fill="#000" stroke="#000" stroke-width="0.3" vector-effect="non-scaling-stroke"/>
<text x="0" y="0" transform="matrix(0.977328 0 0 1 465.741 559.746)" style="font-family:'Liberation Sans',sans-serif;font-size:15.819px;font-weight:normal;fill:#000;stroke:#000;stroke-width:0.3px;" >(Ø<tspan style="fill:none;stroke:none">1</tspan><tspan style="fill:none;stroke:none">1</tspan>0)</text><path transform="matrix(0.007549 0 0 -0.007724 465.741 559.746)" d="M2790 0V1237L2472 1010V1180L2805 1409H2971V0Z M3929 0V1237L3611 1010V1180L3944 1409H4110V0Z" fill="#000" stroke="#000" stroke-width="0.3" vector-effect="non-scaling-stroke"/>
</svg>
</body></html>
